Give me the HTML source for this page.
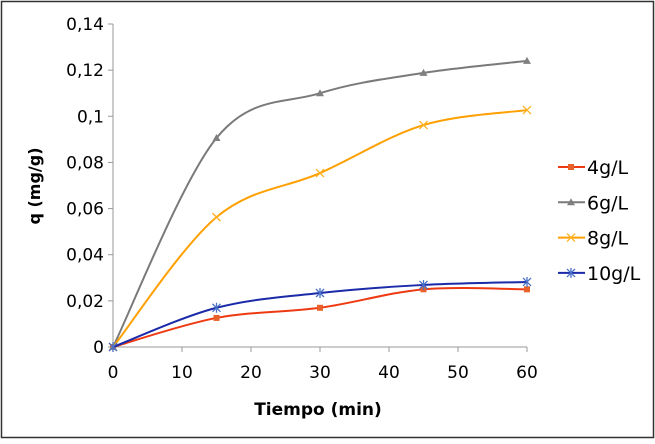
<!DOCTYPE html>
<html><head><meta charset="utf-8"><style>
body{margin:0;background:#fff;}
svg text{font-family:"DejaVu Sans","Liberation Sans",sans-serif;}
</style></head><body>
<svg id="chart" width="655" height="439" xmlns="http://www.w3.org/2000/svg">
<rect x="1.5" y="1.5" width="652" height="436" fill="#fff" stroke="#333" stroke-width="1.5"/>
<g id="axes"></g><g id="series"></g><g id="legend"></g>
<text x="40" y="186" font-size="16" font-weight="bold" text-anchor="middle" transform="rotate(-90 40 186)" fill="#000">q (mg/g)</text>
<text x="318" y="415" font-size="17" font-weight="bold" text-anchor="middle" fill="#000">Tiempo (min)</text>
</svg>
<script>
const times=[0,15,30,45,60];
const s4=[0,0.0126,0.017,0.025,0.025];
const s6=[0,0.0906,0.110,0.1188,0.124];
const s8=[0,0.0563,0.0754,0.0962,0.1027];
const s10=[0,0.017,0.0234,0.0269,0.0282];
const names=['4g/L','6g/L','8g/L','10g/L'];
const xTicks=[0,10,20,30,40,50,60];
const yTicks=[0,0.02,0.04,0.06,0.08,0.1,0.12,0.14];
const yLabels=['0','0,02','0,04','0,06','0,08','0,1','0,12','0,14'];
const NS='http://www.w3.org/2000/svg';
const X=v=>113+v*(414/60), Y=v=>347-v*(323/0.14);
function mk(t,a,p){const e=document.createElementNS(NS,t);for(const k in a)e.setAttribute(k,a[k]);p.appendChild(e);return e;}
const ax=document.getElementById('axes');
const yl=mk('line',{x1:113,y1:Y(0.14),x2:113,y2:347,stroke:'#999'},ax);


const xl=mk('line',{x1:113,y1:347,x2:527,y2:347,stroke:'#999'},ax);


yTicks.forEach((v,i)=>{mk('line',{x1:108,x2:113,y1:Y(v),y2:Y(v),stroke:'#999'},ax);
const t=mk('text',{x:104,y:Y(v)+6,'font-size':17,'text-anchor':'end'},ax);t.textContent=yLabels[i];

});
xTicks.forEach(v=>{mk('line',{x1:X(v),x2:X(v),y1:347,y2:352,stroke:'#999'},ax);
const t=mk('text',{x:X(v),y:378,'font-size':17,'text-anchor':'middle'},ax);t.textContent=v;

});
function path(vals){const p=vals.map((v,i)=>[X(times[i]),Y(v)]);let d='M'+p[0];
for(let i=0;i<p.length-1;i++){const p0=p[i-1]||p[i],p1=p[i],p2=p[i+1],p3=p[i+2]||p2;
d+=' C'+(p1[0]+(p2[0]-p0[0])/6)+','+(p1[1]+(p2[1]-p0[1])/6)+' '+(p2[0]-(p3[0]-p1[0])/6)+','+(p2[1]-(p3[1]-p1[1])/6)+' '+p2;}return d;}
function marker(type,x,y,c,g){
if(type==0)mk('rect',{x:x-3,y:y-3,width:6,height:6,fill:c},g);
else if(type==1)mk('polygon',{points:`${x},${y-4} ${x+4},${y+3} ${x-4},${y+3}`,fill:c},g);
else if(type==2)mk('path',{d:`M${x-4},${y-4}L${x+4},${y+4}M${x-4},${y+4}L${x+4},${y-4}`,stroke:c,'stroke-width':1.3},g);
else mk('path',{d:`M${x-4},${y-4}L${x+4},${y+4}M${x-4},${y+4}L${x+4},${y-4}M${x},${y-5}L${x},${y+5}`,stroke:c,'stroke-width':1.3},g);}
const colors=['#ee3a12','#7a7a7a','#ffa000','#1a2aa8'];
const mcol=['#e8602a','#808080','#ffb020','#4a70c8'];
const sg=document.getElementById('series');
[s4,s6,s8,s10].forEach((vals,k)=>{
const g=mk('g',{},sg);


mk('path',{d:path(vals),fill:'none',stroke:colors[k],'stroke-width':2},g);
vals.forEach((v,i)=>marker(k,X(times[i]),Y(v),mcol[k],g));});
const lg=document.getElementById('legend');
names.forEach((n,k)=>{const y=167+k*35.3;
const g=mk('g',{},lg);


mk('line',{x1:558,x2:585,y1:y,y2:y,stroke:colors[k],'stroke-width':2},g);
marker(k,571,y,mcol[k],g);
const t=mk('text',{x:587,y:y+7,'font-size':19},g);t.textContent=n;});
</script>
</body></html>
